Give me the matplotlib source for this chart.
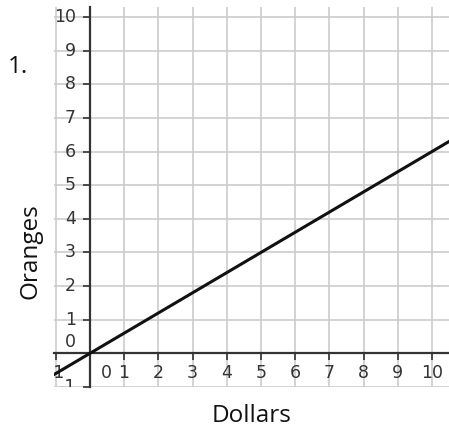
import matplotlib
matplotlib.use("Agg")
import matplotlib.pyplot as plt
import numpy as np

# Data
dollars = [0, 5, 10]
oranges = [0, 3, 6]
x_ticks = list(range(-1, 11))
y_ticks = list(range(-1, 11))
x_label = "Dollars"
y_label = "Oranges"
problem = "1."

W, H = 449, 430
fig = plt.figure(figsize=(W / 100, H / 100), dpi=100)
ax = fig.add_axes([54 / W, 1 - 387 / H, (449 - 54) / W, (387 - 7) / H])
ax.set_xlim(-1.05, 10.5)
ax.set_ylim(-0.88, 10.3)

for s in ["top", "right"]:
    ax.spines[s].set_visible(False)
ax.spines["left"].set_position(("data", 0))
ax.spines["bottom"].set_position(("data", 0))
for s in ["left", "bottom"]:
    ax.spines[s].set_color("#333333")
    ax.spines[s].set_linewidth(1.6)
    ax.spines[s].set_zorder(3)

ax.set_xticks(x_ticks)
ax.set_yticks(y_ticks)
ax.tick_params(axis="both", direction="out", length=5, width=1.2, color="#333333",
               labelbottom=False, labelleft=False)
ax.grid(True, color="#cccccc", linewidth=1.2, zorder=0)
ax.set_axisbelow(True)

tick_color = "#333333"
fs = 12.5
for v in x_ticks:
    dx = 0.47 if v == 0 else 0
    ax.text(v + dx, -0.59, str(v), ha="center", va="center", fontsize=fs,
            color=tick_color, clip_on=True, family="DejaVu Sans")
for v in y_ticks:
    dy = 0.35 if v == 0 else 0
    ax.text(-0.41, v + dy, str(v), ha="right", va="center", fontsize=fs,
            color=tick_color, clip_on=True, family="DejaVu Sans")

ax.axline((dollars[0], oranges[0]), (dollars[-1], oranges[-1]), color="#111111",
          linewidth=2.2, zorder=4)

fig.text(252 / W, 1 - 422 / H, x_label, ha="center", va="baseline", fontsize=17.5,
         family="Open Sans", color="#111111")
fig.text(37 / W, 1 - 251 / H, y_label, ha="center", va="baseline", fontsize=17.5,
         rotation=90, rotation_mode="anchor", family="Open Sans", color="#111111")
fig.text(18 / W, 1 - 73 / H, problem, ha="center", va="baseline", fontsize=17.5,
         family="Open Sans", color="#111111")

fig.savefig("out.png", dpi=100)
